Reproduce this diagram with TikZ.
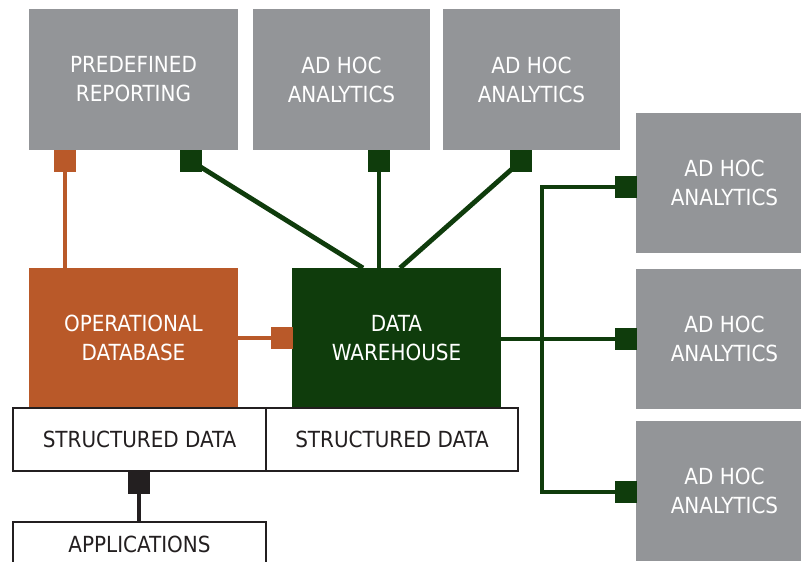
\documentclass[tikz,border=0pt]{standalone}
\usepackage{fontspec}
\setmainfont{DejaVu Sans Condensed}
\usetikzlibrary{backgrounds}
\definecolor{boxgray}{RGB}{147,149,152}
\definecolor{rust}{RGB}{185,89,41}
\definecolor{dgreen}{RGB}{15,60,12}
\definecolor{ink}{RGB}{35,31,32}
\tikzset{
  base/.style={inner sep=0pt, align=center, font=\fontsize{22.2}{29}\selectfont},
  graybox/.style={base, fill=boxgray, text=white, minimum height=141pt},
  rustbox/.style={base, fill=rust, text=white, minimum width=209pt, minimum height=140pt},
  greenbox/.style={base, fill=dgreen, text=white, minimum width=209pt, minimum height=140pt},
  databox/.style={base, draw=ink, line width=2pt, fill=white, text=ink, minimum height=63pt},
  sq/.style={inner sep=0pt, minimum size=22pt},
  oline/.style={draw=rust, line width=4.8pt},
  gline/.style={draw=dgreen, line width=4.8pt},
  bline/.style={draw=ink, line width=4.8pt},
}
\begin{document}
\begin{tikzpicture}[x=1pt,y=-1pt]
\useasboundingbox (0,0) rectangle (801,562);
\clip (0,0) rectangle (801,562);
% top boxes
\node[graybox, minimum width=209pt] (pr) at (133.5,79.5) {PREDEFINED\\REPORTING};
\node[graybox, minimum width=177pt] (ah1) at (341.5,79.5) {AD HOC\\ANALYTICS};
\node[graybox, minimum width=177pt] (ah2) at (531.5,79.5) {AD HOC\\ANALYTICS};
% right boxes
\node[graybox, minimum width=177pt, minimum height=140pt] (ah3) at (724.5,183) {AD HOC\\ANALYTICS};
\node[graybox, minimum width=177pt, minimum height=140pt] (ah4) at (724.5,339) {AD HOC\\ANALYTICS};
\node[graybox, minimum width=177pt, minimum height=140pt] (ah5) at (724.5,491) {AD HOC\\ANALYTICS};
% middle boxes
\node[rustbox] (op) at (133.5,338) {OPERATIONAL\\DATABASE};
\node[greenbox] (dw) at (396.5,338) {DATA\\WAREHOUSE};
% data boxes
\node[databox, minimum width=253pt] (sd1) at (139.5,439.5) {STRUCTURED DATA};
\node[databox, minimum width=252pt] (sd2) at (392,439.5) {STRUCTURED DATA};
\node[databox, minimum width=253pt, minimum height=44pt] (app) at (139.5,544) {APPLICATIONS};
% connector squares
\node[sq, fill=rust] (sqo1) at (65,161) {};
\node[sq, fill=dgreen] (sqg1) at (191,161) {};
\node[sq, fill=dgreen] (sqg2) at (379,161) {};
\node[sq, fill=dgreen] (sqg3) at (521,161) {};
\node[sq, fill=rust] (sqo2) at (282,338) {};
\node[sq, fill=dgreen] (sqr1) at (625.5,187) {};
\node[sq, fill=dgreen] (sqr2) at (625.5,339) {};
\node[sq, fill=dgreen] (sqr3) at (625.5,492) {};
\node[sq, fill=ink] (sqb) at (139,482.5) {};
% connector points
\coordinate (dwA) at (363,268);
\coordinate (dwC) at (400,268);
\coordinate (bus) at (542,339);
\begin{scope}[on background layer]
\draw[oline] (sqo1.center) -- (sqo1.center |- op.north);
\draw[oline] (op.east |- sqo2.center) -- (sqo2.center);
\draw[gline] (sqg1.center) -- (dwA);
\draw[gline] (sqg2.center) -- (sqg2.center |- dw.north);
\draw[gline] (sqg3.center) -- (dwC);
\draw[gline] (dw.east |- sqr2.center) -- (sqr2.center);
\draw[gline, line join=miter] (sqr1.center) -- (bus |- sqr1.center) -- (bus |- sqr3.center) -- (sqr3.center);
\draw[bline] (sqb.center) -- (sqb.center |- app.north);
\end{scope}
\end{tikzpicture}
\end{document}
